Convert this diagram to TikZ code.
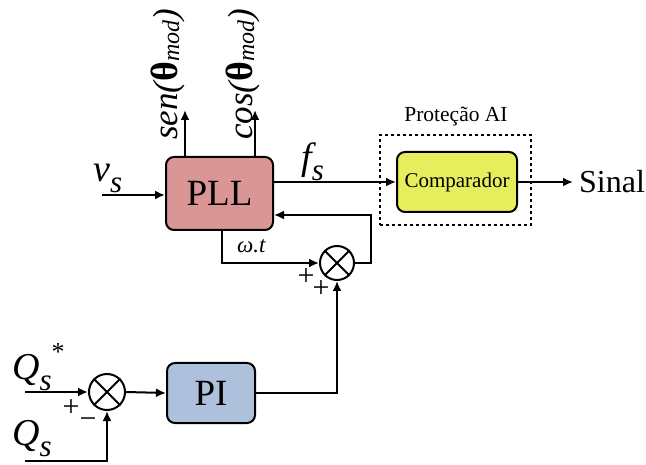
\documentclass[tikz,border=0pt]{standalone}
\usepackage{fontspec}
\setmainfont{Liberation Serif}
\usetikzlibrary{arrows.meta}
\usepackage{xcolor}
\definecolor{cpll} {HTML}{D99694}
\definecolor{ccomp}{HTML}{E7EE5D}
\definecolor{cpi}  {HTML}{ADC1DC}

\newcommand{\lsub}[1]{\raisebox{-11pt}{\fontsize{31}{31}\selectfont\itshape #1}}
\newcommand{\msub}[1]{\raisebox{-2pt}{\fontsize{24}{24}\selectfont\itshape #1}}

\begin{document}
\begin{tikzpicture}[
  x=1pt, y=-1pt,
  arr/.style  = {-{Latex[length=10pt,width=9pt]}, line width=2pt},
  blk/.style  = {rectangle, rounded corners=8pt, draw, line width=2pt,
                 text centered, font=\fontsize{37}{37}\selectfont},
  sumb/.style = {circle, draw, line width=2pt, minimum size=#1, inner sep=0pt},
  lbl/.style  = {font=\fontsize{38}{38}\selectfont\itshape, inner sep=0pt},
  sgn/.style  = {font=\fontsize{30}{30}\selectfont, inner sep=0pt}
]
\useasboundingbox (0,0) rectangle (646,465);

%% ── Nodes ─────────────────────────────────────────────────────────────────
\node[blk, fill=cpll, minimum width=107pt, minimum height=73pt] (pll) at (219.5,193.5) {PLL};
\node[blk, fill=cpi,  minimum width=88pt,  minimum height=60pt] (pi)  at (211,393) {PI};
\node[blk, fill=ccomp, minimum width=120pt, minimum height=60pt,
      font=\fontsize{21}{21}\selectfont] (comp) at (457,182) {Comparador};
\node[draw, dashed, line width=1.6pt, minimum width=151pt, minimum height=90pt] (prot) at (455.5,180) {};
\node[font=\fontsize{21.5}{21.5}\selectfont] (protl) at (456,117) {Proteção AI};

\node[sumb=34pt] (sum2) at (337,263) {};
\node[sumb=36pt] (sum1) at (107,392) {};
\foreach \s in {sum1, sum2} {
  \draw[line width=2pt] (\s.north east) -- (\s.south west);
  \draw[line width=2pt] (\s.north west) -- (\s.south east);
}

\coordinate (vin)    at (102,195);
\coordinate (senout) at (185,110);
\coordinate (cosout) at (255,110);
\coordinate (fb)     at (371,215);
\coordinate (wt)     at (222,263);
\coordinate (qin)    at (25,392);
\coordinate (qfb)    at (25,461);

%% ── Arrows ────────────────────────────────────────────────────────────────
% PLL inputs and outputs
\draw[arr] (vin) -- (vin -| pll.west);
\draw[arr] (senout |- pll.north) -- (senout);
\draw[arr] (cosout |- pll.north) -- (cosout);
\draw[arr] (comp.west -| pll.east) -- (comp.west);

% Comparador → Sinal
\node[font=\fontsize{32}{32}\selectfont, anchor=west, inner sep=6pt] (sinal) at (573,182) {Sinal};
\draw[arr] (comp.east) -- (sinal.west);

% ωt → sum → back into the PLL
\draw[arr] (wt |- pll.south) -- (wt) -- (sum2.west);
\draw[arr] (sum2.east) -| (fb) -- (fb -| pll.east);

% PI → sum
\draw[arr] (pi.east) -| (sum2.south);

% Q references → sum → PI
\draw[arr] (qin) -- (sum1.west);
\draw[arr] (qfb) -| (sum1.south);
\draw[arr] (sum1.east) -- (pi.west);

%% ── Labels ────────────────────────────────────────────────────────────────
\node[lbl, anchor=base west] (vs) at (93,182) {v\lsub{s}};
\node[lbl, anchor=base west] (fs) at (301,170) {f\lsub{s}};
\node[lbl, anchor=base west] (qs1) at (12,380) {Q\lsub{s}\raisebox{20pt}{\fontsize{26}{26}\selectfont\upshape *}};
\node[lbl, anchor=base west] (qs2) at (12,446) {Q\lsub{s}};
\node[lbl, anchor=base west, font=\fontsize{23}{23}\selectfont\itshape] (wtl) at (237,253) {ω.t};
\node[lbl, rotate=90, anchor=base west, font=\fontsize{35}{35}\selectfont\itshape] (senl) at (177,140)
  {sen({\fontsize{38}{38}\selectfont\bfseries\upshape θ}\msub{mod})};
\node[lbl, rotate=90, anchor=base west, font=\fontsize{35}{35}\selectfont\itshape] (cosl) at (252,140)
  {cos({\fontsize{38}{38}\selectfont\bfseries\upshape θ}\msub{mod})};

\node[sgn] (p1) at (306,277) {+};
\node[sgn] (p2) at (321,289) {+};
\node[sgn] (p3) at (71,408)  {+};
\node[sgn] (m1) at (88,423)  {−};

\end{tikzpicture}
\end{document}
